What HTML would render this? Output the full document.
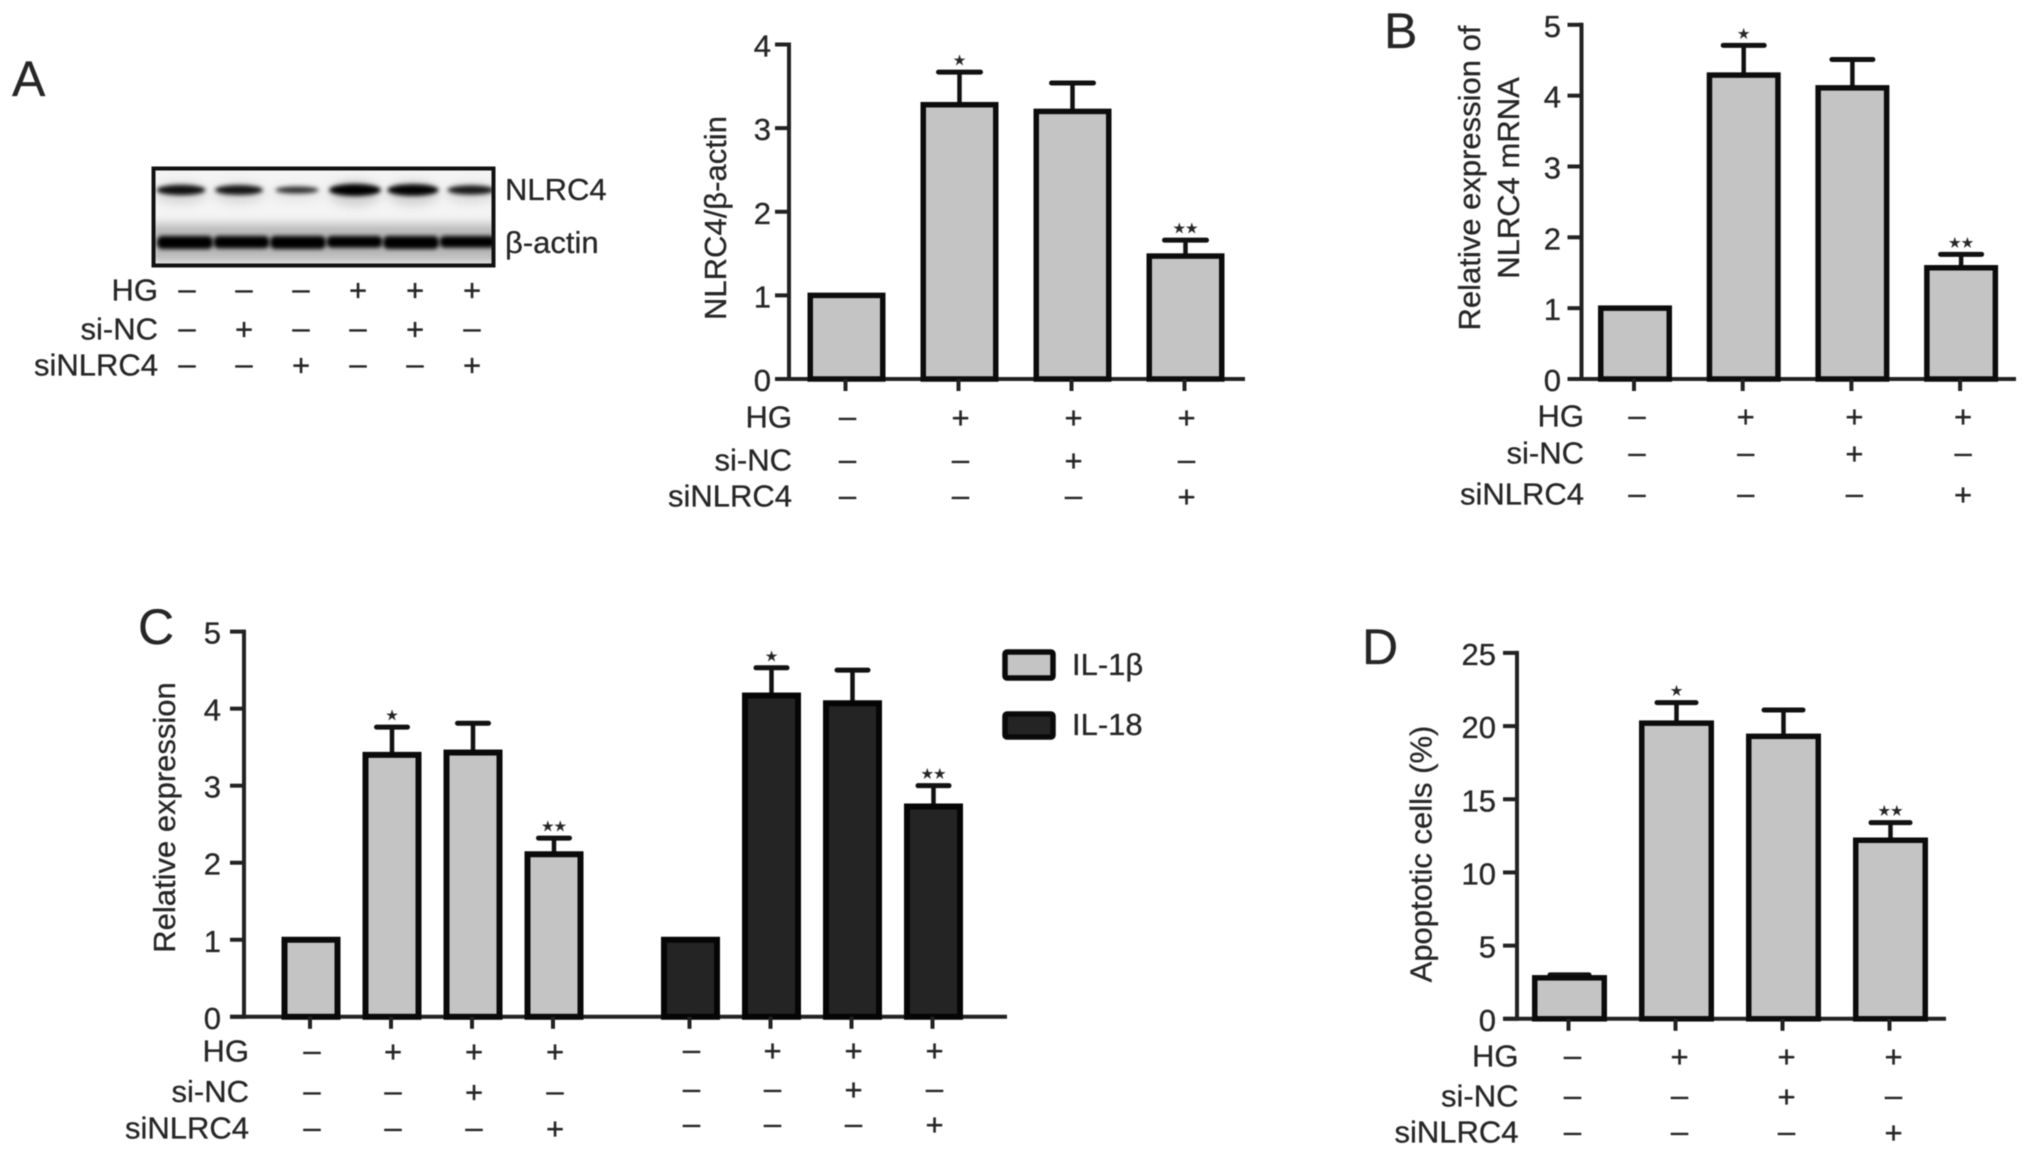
<!DOCTYPE html>
<html lang="en">
<head>
<meta charset="utf-8">
<title>NLRC4 knockdown figure</title>
<style>
  html, body { margin: 0; padding: 0; background: #fff; }
  #figure { display: block; width: 2032px; height: 1157px; filter: blur(0.6px); }
  text { font-family: "Liberation Sans", Arial, sans-serif; fill: #262626; stroke: #262626; stroke-width: 0.3px; }
</style>
</head>
<body>
<svg id="figure" xmlns="http://www.w3.org/2000/svg" width="2032" height="1157" viewBox="0 0 2032 1157">
  <defs>
    <filter id="blur-soft" x="-20%" y="-100%" width="140%" height="300%"><feGaussianBlur stdDeviation="2"/></filter>
    <filter id="blur-haze" x="-20%" y="-100%" width="140%" height="300%"><feGaussianBlur stdDeviation="5"/></filter>
    <clipPath id="blot-clip"><rect x="152" y="167" width="343" height="100"/></clipPath>
  </defs>
  <text x="12" y="96" font-size="50">A</text>
  <text x="1384" y="48" font-size="50">B</text>
  <text x="138" y="644" font-size="50">C</text>
  <text x="1362" y="664" font-size="50">D</text>
  <g id="blot" clip-path="url(#blot-clip)"></g>
  <rect x="153.5" y="168.5" width="340" height="97" fill="none" stroke="#111" stroke-width="4"/>
  <text x="505" y="200" font-size="31">NLRC4</text>
  <text x="505" y="253" font-size="31">β-actin</text>
  <g id="charts"></g>
</svg>
<script>
const rowNames = ['HG', 'si-NC', 'siNLRC4'];
const hgSigns = ['–', '+', '+', '+'];
const siNcSigns = ['–', '–', '+', '–'];
const siNlrcSigns = ['–', '–', '–', '+'];
const stars = ['', '★', '', '★★'];

const blotHg = ['–', '–', '–', '+', '+', '+'];
const blotSiNc = ['–', '+', '–', '–', '+', '–'];
const blotSiNlrc = ['–', '–', '+', '–', '–', '+'];
const blotNlrc4Density = [0.8, 0.75, 0.45, 1, 0.95, 0.7];
const blotActinDensity = [1, 0.95, 1, 0.9, 1, 0.9];

const ticksA = [0, 1, 2, 3, 4];
const valuesA = [1.0, 3.28, 3.2, 1.47];
const upperA = [null, 3.67, 3.54, 1.66];

const ticksB = [0, 1, 2, 3, 4, 5];
const valuesB = [1.0, 4.29, 4.11, 1.57];
const upperB = [null, 4.71, 4.51, 1.76];

const ticksC = [0, 1, 2, 3, 4, 5];
const valuesIl1b = [1.0, 3.40, 3.43, 2.11];
const upperIl1b = [null, 3.76, 3.81, 2.32];
const valuesIl18 = [1.0, 4.17, 4.07, 2.73];
const upperIl18 = [null, 4.53, 4.50, 3.00];

const ticksD = [0, 5, 10, 15, 20, 25];
const valuesD = [2.8, 20.2, 19.3, 12.2];
const upperD = [3.0, 21.6, 21.1, 13.4];

const SVG_NS = 'http://www.w3.org/2000/svg';
const root = document.getElementById('charts');
const blot = document.getElementById('blot');

function make(tag, attrs, parent) {
  const node = document.createElementNS(SVG_NS, tag);
  Object.keys(attrs).forEach(function (k) { node.setAttribute(k, attrs[k]); });
  parent.appendChild(node);
  return node;
}

function signRows(cfg, g, rows, centers) {
  rows.forEach(function (signs, r) {
    if (cfg.showRowNames) {
      const label = make('text', { x: cfg.rowRight, y: cfg.rowY[r] + 9.5, 'font-size': 31, 'text-anchor': 'end' }, g);
      
      
      label.textContent = rowNames[r];
    }
    signs.forEach(function (s, i) {
      const mark = make('text', {
        x: centers(i), y: cfg.rowY[r] + (s === '+' ? 10 : 9),
        'font-size': 31, 'text-anchor': 'middle', 'font-weight': 'normal'
      }, g);
      
      
      mark.textContent = s;
    });
  });
}

function drawAxes(cfg, ticks, g) {
  const y = function (v) { return cfg.y0 - (v / ticks[ticks.length - 1]) * (cfg.y0 - cfg.yTop); };
  const axisY = make('line', { x1: cfg.axisX, x2: cfg.axisX, y1: cfg.yTop - 2, y2: cfg.y0 + 2, stroke: '#222', 'stroke-width': 4 }, g);
  
  
  ticks.forEach(function (t) {
    const tick = make('line', { x1: cfg.axisX - 14, x2: cfg.axisX, y1: y(t), y2: y(t), stroke: '#222', 'stroke-width': 4 }, g);
    
    
    const label = make('text', { x: cfg.tickRight, y: y(t) + 12, 'font-size': 31, 'text-anchor': 'end' }, g);
    
    
    label.textContent = String(t);
  });
  const axisX = make('line', { x1: cfg.axisX - 14, x2: cfg.xEnd, y1: cfg.y0, y2: cfg.y0, stroke: '#222', 'stroke-width': 4 }, g);
  
  
  cfg.titles.forEach(function (t) {
    const title = make('text', {
      x: 0, y: 0, 'font-size': 31, 'text-anchor': 'middle',
      transform: 'translate(' + (t.x + 11) + ' ' + cfg.titleY + ') rotate(-90)'
    }, g);
    
    
    title.textContent = t.text;
  });
  return y;
}

function drawBars(cfg, y, g, values, upper, start, fill, stroke, seriesName) {
  const center = function (i) { return start + cfg.step * i; };
  const sw = cfg.barStroke;
  values.forEach(function (v, i) {
    const cx = center(i);
    if (upper[i] !== null) {
      const stem = make('line', { x1: cx, x2: cx, y1: y(v), y2: y(upper[i]), stroke: '#111', 'stroke-width': 4.5 }, g);
      
      
      const cap = make('line', { x1: cx - cfg.capW / 2, x2: cx + cfg.capW / 2, y1: y(upper[i]), y2: y(upper[i]), stroke: '#111', 'stroke-width': 5, 'stroke-linecap': 'round' }, g);
      
      
    }
    const bar = make('rect', {
      x: cx - (cfg.barW - sw) / 2, y: y(v), width: cfg.barW - sw, height: y(0) - y(v),
      fill: fill, stroke: stroke, 'stroke-width': sw
    }, g);
    
    
    const tick = make('line', { x1: cx - 1, x2: cx - 1, y1: y(0), y2: y(0) + 12, stroke: '#222', 'stroke-width': 4 }, g);
    
    
    if (stars[i] && upper[i] !== null) {
      const star = make('text', { x: cx, y: y(upper[i]) - 7, 'font-size': 14, 'text-anchor': 'middle', style: 'font-family:"DejaVu Sans",sans-serif' }, g);
      
      
      star.textContent = stars[i];
    }
  });
}

function panel(name, cfg, ticks, series) {
  const g = make('g', {}, root);
  
  
  const y = drawAxes(cfg, ticks, g);
  series.forEach(function (s) {
    drawBars(cfg, y, g, s.values, s.upper, s.start, s.fill, s.stroke, s.name);
    signRows(Object.assign({}, cfg, { showRowNames: s.showRowNames, rowY: s.rowY || cfg.rowY }), g, [hgSigns, siNcSigns, siNlrcSigns], function (i) {
      return s.start + cfg.step * i + cfg.signDx;
    });
  });
}

panel('chart-nlrc4-protein', {
  axisX: 789, y0: 379, yTop: 44.5, xEnd: 1245, tickRight: 771, step: 113, barW: 78, barStroke: 5.5, capW: 42,
  rowRight: 792, rowY: [418, 461, 497], signDx: 1, titleY: 218, titles: [{ x: 715, text: 'NLRC4/β-actin' }]
}, ticksA, [{ name: 'nlrc4-protein', values: valuesA, upper: upperA, start: 846.5, fill: '#c4c4c4', stroke: '#0c0c0c', showRowNames: true }]);

panel('chart-nlrc4-mrna', {
  axisX: 1581.5, y0: 379, yTop: 24.8, xEnd: 2016, tickRight: 1561, step: 108.7, barW: 74, barStroke: 5.5, capW: 41,
  rowRight: 1584, rowY: [417, 454, 495], signDx: 2, titleY: 178,
  titles: [{ x: 1469, text: 'Relative expression of' }, { x: 1508, text: 'NLRC4 mRNA' }]
}, ticksB, [{ name: 'nlrc4-mrna', values: valuesB, upper: upperB, start: 1635, fill: '#c4c4c4', stroke: '#0c0c0c', showRowNames: true }]);

panel('chart-cytokine-expression', {
  axisX: 244, y0: 1016.8, yTop: 631.6, xEnd: 1007, tickRight: 221, step: 81, barW: 59, barStroke: 6, capW: 31,
  rowRight: 249, rowY: [1052, 1092.5, 1129], signDx: 1, titleY: 817.5, titles: [{ x: 164, text: 'Relative expression' }]
}, ticksC, [
  { name: 'il-1b', values: valuesIl1b, upper: upperIl1b, start: 311, fill: '#c4c4c4', stroke: '#0a0a0a', showRowNames: true },
  { name: 'il-18', values: valuesIl18, upper: upperIl18, start: 690.5, fill: '#242424', stroke: '#050505', showRowNames: false, rowY: [1051, 1090, 1125] }
]);

panel('chart-apoptotic-cells', {
  axisX: 1517, y0: 1018.8, yTop: 652.9, xEnd: 1946, tickRight: 1496, step: 107, barW: 75, barStroke: 5.5, capW: 39,
  rowRight: 1518.5, rowY: [1057, 1097, 1133], signDx: 3, titleY: 854, titles: [{ x: 1420.5, text: 'Apoptotic cells (%)' }]
}, ticksD, [{ name: 'apoptotic-cells', values: valuesD, upper: upperD, start: 1569.5, fill: '#c4c4c4', stroke: '#0c0c0c', showRowNames: true }]);

/* Legend for panel C */
const legendNames = ['IL-1β', 'IL-18'];
const legendFills = ['#c4c4c4', '#242424'];
legendNames.forEach(function (n, i) {
  const top = i === 0 ? 652 : 714;
  const h = i === 0 ? 26 : 23;
  const swatch = make('rect', { x: 1005, y: top, width: 48, height: h, fill: legendFills[i], stroke: '#0a0a0a', 'stroke-width': 5.5, rx: 2 }, root);
  
  
  const label = make('text', { x: 1072, y: i === 0 ? 675 : 735, 'font-size': 31 }, root);
  
  
  label.textContent = n;
});

/* Western blot */
const blotBg = make('rect', { x: 150, y: 165, width: 350, height: 105, fill: '#f4f4f4' }, blot);


const blotHaze = make('rect', { x: 150, y: 224, width: 350, height: 38, fill: '#b8b8b8', filter: 'url(#blur-haze)' }, blot);



function blotX(i) { return 181 + 58 * i; }
function actinX(i) { return 185 + 56.5 * i; }

blotNlrc4Density.forEach(function (d, i) {
  const halo = make('ellipse', { cx: blotX(i), cy: 193, rx: 26, ry: 3 + 10 * d, fill: '#999', opacity: 0.4 * d, filter: 'url(#blur-haze)' }, blot);
  
  
  const band = make('ellipse', { cx: blotX(i), cy: 190, rx: 18 + 8 * d, ry: 1.5 + 4.5 * d, fill: '#000', opacity: 0.6 + 0.4 * d, filter: 'url(#blur-soft)' }, blot);
  
  
});

blotActinDensity.forEach(function (d, i) {
  const band = make('rect', { x: actinX(i) - 28, y: 236, width: 56, height: 13 * d, rx: 5, fill: '#000', filter: 'url(#blur-soft)' }, blot);
  
  
});

const blotLabels = make('g', {}, root);


const blotSignX = function (i) { return 187 + 57 * i; };
rowNames.forEach(function (n, r) {
  const rowY = [290.5, 329.5, 365.5][r];
  const label = make('text', { x: 158, y: rowY + 10, 'font-size': 31, 'text-anchor': 'end' }, blotLabels);
  
  
  label.textContent = n;
  [blotHg, blotSiNc, blotSiNlrc][r].forEach(function (s, i) {
    const mark = make('text', { x: blotSignX(i), y: rowY + (s === '+' ? 10 : 9), 'font-size': 31, 'text-anchor': 'middle' }, blotLabels);
    
    
    mark.textContent = s;
  });
});
</script>
</body>
</html>
